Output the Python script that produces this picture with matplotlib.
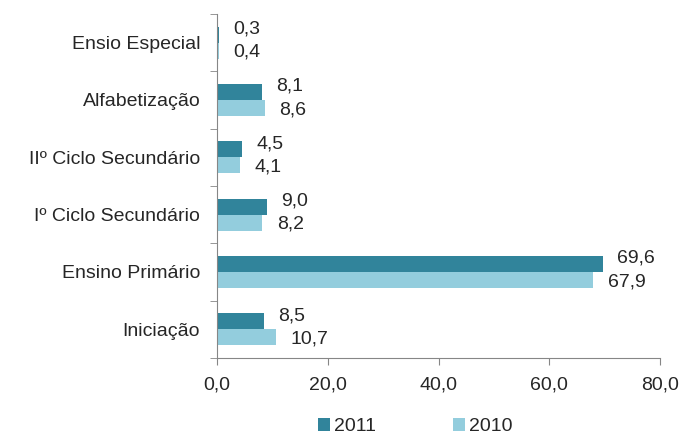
import numpy as np
import matplotlib
matplotlib.use('Agg')
import matplotlib.pyplot as plt
from matplotlib.ticker import FixedLocator

plt.rcParams['font.family'] = ['Liberation Sans', 'DejaVu Sans']

# ── Data ────────────────────────────────
categories = ['Iniciação', 'Ensino Primário', 'Iº Ciclo Secundário',
              'IIº Ciclo Secundário', 'Alfabetização', 'Ensio Especial']
values_2011 = [8.5, 69.6, 9.0, 4.5, 8.1, 0.3]
values_2010 = [10.7, 67.9, 8.2, 4.1, 8.6, 0.4]
labels_2011 = ['8,5', '69,6', '9,0', '4,5', '8,1', '0,3']
labels_2010 = ['10,7', '67,9', '8,2', '4,1', '8,6', '0,4']
x_ticks = [0, 20, 40, 60, 80]
x_tick_labels = ['0,0', '20,0', '40,0', '60,0', '80,0']

c2011 = '#31849B'
c2010 = '#93CDDD'
grey = '#868686'
txt = '#262626'
fs = 14

fig = plt.figure(figsize=(6.82, 4.36), dpi=100)
ax = fig.add_axes([0.318, 0.179, 0.650, 0.789])

y = np.arange(len(categories))
h = 0.28
ax.barh(y + h / 2, values_2011, h, color=c2011, label='2011')
ax.barh(y - h / 2, values_2010, h, color=c2010, label='2010')

for i in range(len(categories)):
    ax.text(values_2011[i] + 2.6, y[i] + h / 2 + 0.1, labels_2011[i],
            va='center', ha='left', fontsize=fs, color=txt)
    ax.text(values_2010[i] + 2.6, y[i] - h / 2 - 0.03, labels_2010[i],
            va='center', ha='left', fontsize=fs, color=txt)

ax.set_xlim(0, 80)
ax.set_ylim(-0.5, len(categories) - 0.5)
ax.set_xticks(x_ticks)
ax.set_xticklabels(x_tick_labels, fontsize=fs, color=txt)
ax.set_yticks(y)
ax.set_yticklabels(categories, fontsize=fs, color=txt)
ax.tick_params(axis='y', which='major', length=0, pad=12)
ax.yaxis.set_minor_locator(FixedLocator(np.arange(-0.5, len(categories), 1)))
ax.tick_params(axis='y', which='minor', length=5, color=grey)
ax.tick_params(axis='x', length=5, color=grey, pad=8)

for s in ['top', 'right']:
    ax.spines[s].set_visible(False)
for s in ['left', 'bottom']:
    ax.spines[s].set_color(grey)

fig.legend(loc='center', bbox_to_anchor=(0.609, 0.021), ncol=2,
           frameon=False, fontsize=fs, handlelength=0.6, handleheight=0.6,
           handletextpad=0.2, columnspacing=4.0, labelcolor=txt,
           borderpad=0, borderaxespad=0)

fig.savefig('out.png', dpi=100)
